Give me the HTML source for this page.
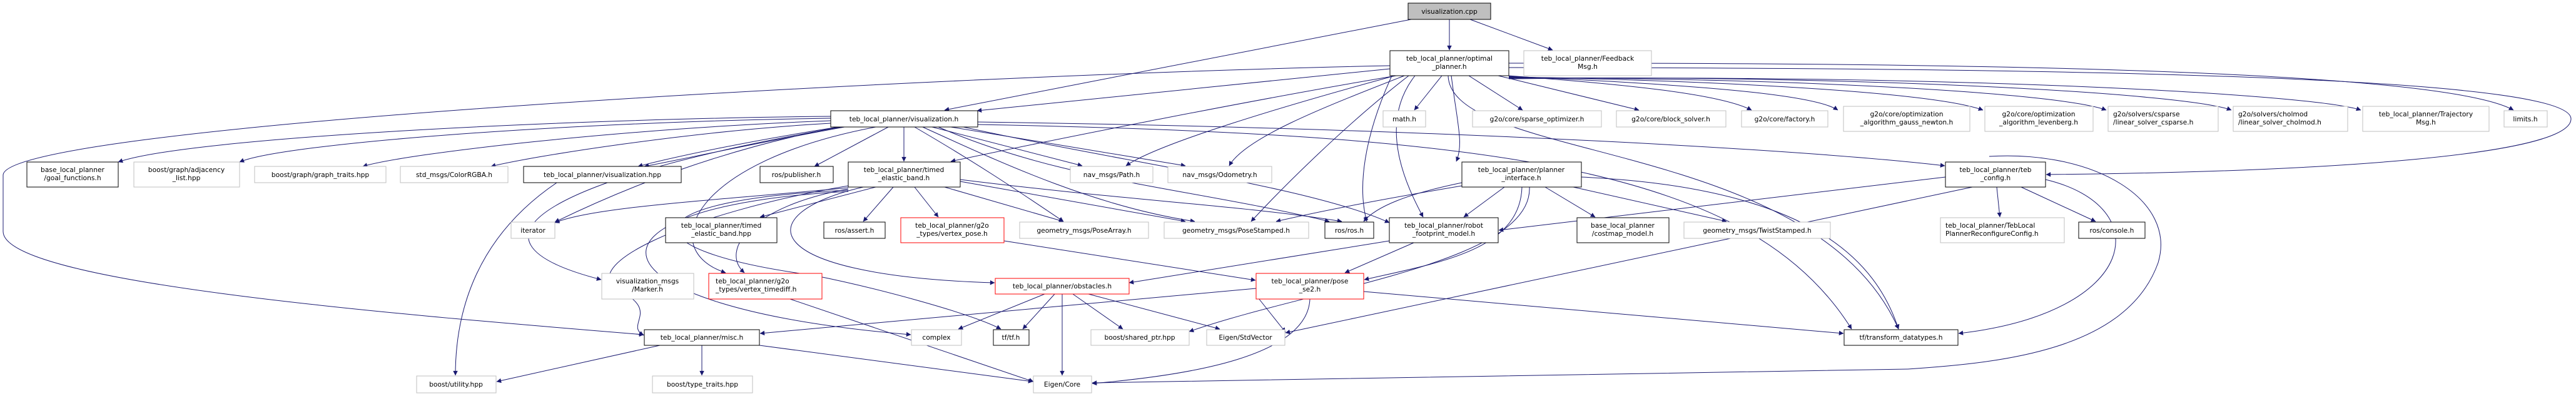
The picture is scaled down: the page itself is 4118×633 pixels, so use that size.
<!DOCTYPE html>
<html><head><meta charset="utf-8">
<style>
html,body{margin:0;padding:0;background:#fff;}
svg{display:block;}
text{font-family:"DejaVu Sans","Liberation Sans",sans-serif;font-size:10.7px;fill:#000;}
</style></head>
<body>
<svg id="g" width="4118" height="633" viewBox="0 0 4118 633" xmlns="http://www.w3.org/2000/svg">
<defs>
<marker id="ah" viewBox="0 0 10 10" refX="9.5" refY="5" markerWidth="10" markerHeight="7.5" markerUnits="userSpaceOnUse" orient="auto">
<path d="M0,0 L10,5 L0,10 z" fill="#191970"/>
</marker>
</defs>
<g id="edges" fill="none" stroke="#191970" stroke-width="1"></g>
<g id="nodes">
<rect x="2251" y="5" width="132" height="26" fill="#bfbfbf" stroke="#000"/><text x="2317" y="22" text-anchor="middle">visualization.cpp</text>
<rect x="2222" y="81" width="190" height="40" fill="#fff" stroke="#000"/><text x="2317" y="97" text-anchor="middle">teb_local_planner/optimal</text><text x="2317" y="110" text-anchor="middle">_planner.h</text>
<rect x="2436" y="81" width="204" height="40" fill="#fff" stroke="#bfbfbf"/><text x="2538" y="97" text-anchor="middle">teb_local_planner/Feedback</text><text x="2538" y="110" text-anchor="middle">Msg.h</text>
<rect x="1328" y="177" width="235" height="26" fill="#fff" stroke="#000"/><text x="1445" y="194" text-anchor="middle">teb_local_planner/visualization.h</text>
<rect x="2211" y="177" width="68" height="26" fill="#fff" stroke="#bfbfbf"/><text x="2245" y="194" text-anchor="middle">math.h</text>
<rect x="2354" y="177" width="206" height="26" fill="#fff" stroke="#bfbfbf"/><text x="2457" y="194" text-anchor="middle">g2o/core/sparse_optimizer.h</text>
<rect x="2584" y="177" width="175" height="26" fill="#fff" stroke="#bfbfbf"/><text x="2671" y="194" text-anchor="middle">g2o/core/block_solver.h</text>
<rect x="2784" y="177" width="138" height="26" fill="#fff" stroke="#bfbfbf"/><text x="2853" y="194" text-anchor="middle">g2o/core/factory.h</text>
<rect x="2947" y="170" width="202" height="40" fill="#fff" stroke="#bfbfbf"/><text x="3048" y="186" text-anchor="middle">g2o/core/optimization</text><text x="3048" y="199" text-anchor="middle">_algorithm_gauss_newton.h</text>
<rect x="3173" y="170" width="173" height="40" fill="#fff" stroke="#bfbfbf"/><text x="3259" y="186" text-anchor="middle">g2o/core/optimization</text><text x="3259" y="199" text-anchor="middle">_algorithm_levenberg.h</text>
<rect x="3370" y="170" width="176" height="40" fill="#fff" stroke="#bfbfbf"/><text x="3378" y="186">g2o/solvers/csparse</text><text x="3378" y="199">/linear_solver_csparse.h</text>
<rect x="3570" y="170" width="183" height="40" fill="#fff" stroke="#bfbfbf"/><text x="3578" y="186">g2o/solvers/cholmod</text><text x="3578" y="199">/linear_solver_cholmod.h</text>
<rect x="3777" y="170" width="202" height="40" fill="#fff" stroke="#bfbfbf"/><text x="3878" y="186" text-anchor="middle">teb_local_planner/Trajectory</text><text x="3878" y="199" text-anchor="middle">Msg.h</text>
<rect x="4003" y="177" width="69" height="26" fill="#fff" stroke="#bfbfbf"/><text x="4037" y="194" text-anchor="middle">limits.h</text>
<rect x="43" y="259" width="146" height="40" fill="#fff" stroke="#000"/><text x="116" y="275" text-anchor="middle">base_local_planner</text><text x="116" y="288" text-anchor="middle">/goal_functions.h</text>
<rect x="214" y="259" width="169" height="40" fill="#fff" stroke="#bfbfbf"/><text x="298" y="275" text-anchor="middle">boost/graph/adjacency</text><text x="298" y="288" text-anchor="middle">_list.hpp</text>
<rect x="407" y="266" width="210" height="26" fill="#fff" stroke="#bfbfbf"/><text x="512" y="283" text-anchor="middle">boost/graph/graph_traits.hpp</text>
<rect x="640" y="266" width="172" height="26" fill="#fff" stroke="#bfbfbf"/><text x="726" y="283" text-anchor="middle">std_msgs/ColorRGBA.h</text>
<rect x="837" y="266" width="252" height="26" fill="#fff" stroke="#000"/><text x="963" y="283" text-anchor="middle">teb_local_planner/visualization.hpp</text>
<rect x="1215" y="266" width="117" height="26" fill="#fff" stroke="#000"/><text x="1273" y="283" text-anchor="middle">ros/publisher.h</text>
<rect x="1356" y="259" width="179" height="40" fill="#fff" stroke="#000"/><text x="1445" y="275" text-anchor="middle">teb_local_planner/timed</text><text x="1445" y="288" text-anchor="middle">_elastic_band.h</text>
<rect x="1711" y="266" width="132" height="26" fill="#fff" stroke="#bfbfbf"/><text x="1777" y="283" text-anchor="middle">nav_msgs/Path.h</text>
<rect x="1867" y="266" width="166" height="26" fill="#fff" stroke="#bfbfbf"/><text x="1950" y="283" text-anchor="middle">nav_msgs/Odometry.h</text>
<rect x="2337" y="259" width="191" height="40" fill="#fff" stroke="#000"/><text x="2432" y="275" text-anchor="middle">teb_local_planner/planner</text><text x="2432" y="288" text-anchor="middle">_interface.h</text>
<rect x="3110" y="259" width="160" height="40" fill="#fff" stroke="#000"/><text x="3190" y="275" text-anchor="middle">teb_local_planner/teb</text><text x="3190" y="288" text-anchor="middle">_config.h</text>
<rect x="817" y="355" width="70" height="26" fill="#fff" stroke="#bfbfbf"/><text x="852" y="372" text-anchor="middle">iterator</text>
<rect x="1064" y="348" width="178" height="40" fill="#fff" stroke="#000"/><text x="1153" y="364" text-anchor="middle">teb_local_planner/timed</text><text x="1153" y="377" text-anchor="middle">_elastic_band.hpp</text>
<rect x="1317" y="355" width="98" height="26" fill="#fff" stroke="#000"/><text x="1366" y="372" text-anchor="middle">ros/assert.h</text>
<rect x="1440" y="348" width="165" height="40" fill="#fff" stroke="#ff0000"/><text x="1522" y="364" text-anchor="middle">teb_local_planner/g2o</text><text x="1522" y="377" text-anchor="middle">_types/vertex_pose.h</text>
<rect x="1630" y="355" width="206" height="26" fill="#fff" stroke="#bfbfbf"/><text x="1733" y="372" text-anchor="middle">geometry_msgs/PoseArray.h</text>
<rect x="1861" y="355" width="231" height="26" fill="#fff" stroke="#bfbfbf"/><text x="1976" y="372" text-anchor="middle">geometry_msgs/PoseStamped.h</text>
<rect x="2118" y="355" width="78" height="26" fill="#fff" stroke="#000"/><text x="2157" y="372" text-anchor="middle">ros/ros.h</text>
<rect x="2221" y="348" width="174" height="40" fill="#fff" stroke="#000"/><text x="2308" y="364" text-anchor="middle">teb_local_planner/robot</text><text x="2308" y="377" text-anchor="middle">_footprint_model.h</text>
<rect x="2521" y="348" width="147" height="40" fill="#fff" stroke="#000"/><text x="2594" y="364" text-anchor="middle">base_local_planner</text><text x="2594" y="377" text-anchor="middle">/costmap_model.h</text>
<rect x="2692" y="355" width="234" height="26" fill="#fff" stroke="#bfbfbf"/><text x="2809" y="372" text-anchor="middle">geometry_msgs/TwistStamped.h</text>
<rect x="3102" y="348" width="198" height="40" fill="#fff" stroke="#bfbfbf"/><text x="3110" y="364">teb_local_planner/TebLocal</text><text x="3110" y="377">PlannerReconfigureConfig.h</text>
<rect x="3323" y="355" width="106" height="26" fill="#fff" stroke="#000"/><text x="3376" y="372" text-anchor="middle">ros/console.h</text>
<rect x="962" y="437" width="147" height="41" fill="#fff" stroke="#bfbfbf"/><text x="1035" y="453" text-anchor="middle">visualization_msgs</text><text x="1035" y="466" text-anchor="middle">/Marker.h</text>
<rect x="1133" y="437" width="181" height="41" fill="#fff" stroke="#ff0000"/><text x="1144" y="453">teb_local_planner/g2o</text><text x="1144" y="466">_types/vertex_timediff.h</text>
<rect x="1591" y="445" width="214" height="25" fill="#fff" stroke="#ff0000"/><text x="1698" y="461" text-anchor="middle">teb_local_planner/obstacles.h</text>
<rect x="2008" y="437" width="172" height="41" fill="#fff" stroke="#ff0000"/><text x="2094" y="453" text-anchor="middle">teb_local_planner/pose</text><text x="2094" y="466" text-anchor="middle">_se2.h</text>
<rect x="1030" y="527" width="184" height="25" fill="#fff" stroke="#000"/><text x="1122" y="543" text-anchor="middle">teb_local_planner/misc.h</text>
<rect x="1457" y="527" width="80" height="25" fill="#fff" stroke="#bfbfbf"/><text x="1497" y="543" text-anchor="middle">complex</text>
<rect x="1588" y="527" width="57" height="25" fill="#fff" stroke="#000"/><text x="1616" y="543" text-anchor="middle">tf/tf.h</text>
<rect x="1744" y="527" width="157" height="25" fill="#fff" stroke="#bfbfbf"/><text x="1822" y="543" text-anchor="middle">boost/shared_ptr.hpp</text>
<rect x="1929" y="527" width="125" height="25" fill="#fff" stroke="#bfbfbf"/><text x="1991" y="543" text-anchor="middle">Eigen/StdVector</text>
<rect x="2948" y="527" width="182" height="25" fill="#fff" stroke="#000"/><text x="3039" y="543" text-anchor="middle">tf/transform_datatypes.h</text>
<rect x="666" y="601" width="127" height="27" fill="#fff" stroke="#bfbfbf"/><text x="729" y="618" text-anchor="middle">boost/utility.hpp</text>
<rect x="1043" y="601" width="160" height="27" fill="#fff" stroke="#bfbfbf"/><text x="1123" y="618" text-anchor="middle">boost/type_traits.hpp</text>
<rect x="1652" y="601" width="93" height="27" fill="#fff" stroke="#bfbfbf"/><text x="1698" y="618" text-anchor="middle">Eigen/Core</text>
</g>
</svg>
<script>
var E=[];
function c(x1,y1,x2,y2){var m=(y1+y2)/2;E.push("M"+x1+","+y1+" C"+x1+","+m+" "+x2+","+m+" "+x2+","+y2);}
function l(x1,y1,x2,y2){E.push("M"+x1+","+y1+" L"+x2+","+y2);}
function p(d){E.push(d);}
// visualization.cpp
l(2317,31,2317,80);l(2350,31,2482,80);l(2256,31,1510,176);
// optimal_planner
l(2222,110,1562,177);
l(2305,121,2261,176);l(2348,121,2434,176);l(2395,121,2620,176);
p("M2412,121 C2600,135 2750,150 2800,176");
p("M2412,122 C2700,135 2900,150 2938,176");
p("M2412,123 C2800,130 3100,150 3170,176");
p("M2412,124 C2900,125 3300,150 3367,176");
p("M2412,125 C3000,120 3500,150 3567,176");
p("M2412,126 C3100,118 3700,150 3774,176");
p("M2412,101 C3100,100 3900,110 4018,176");
p("M2412,108 C3500,108 4110,130 4110,190 C4110,250 3700,275 3271,279");
p("M2320,121 C2330,200 2340,230 2328,258");
p("M2232,121 C2000,160 1700,220 1520,258");
p("M2262,121 C2200,200 2250,300 2275,347");
p("M2230,121 C2050,170 1850,230 1800,265");
p("M2245,121 C2120,170 1990,220 1965,265");
p("M2252,121 C2150,200 2050,300 2000,354");
p("M2225,121 C2180,220 2170,300 2185,354");
p("M2315,121 C2320,260 2900,220 3035,526");
p("M2222,105 C1500,120 5,200 5,280 L5,370 C5,450 600,500 1029,535");
// visualization.h
p("M1328,186 C900,190 300,220 189,259");
p("M1328,189 C900,195 450,230 383,259");
p("M1328,193 C1000,205 650,245 580,266");
p("M1328,197 C1100,210 850,250 785,266");
p("M1340,203 C1200,225 1080,250 1020,266");
p("M1350,203 C1200,230 1090,255 1030,266");
l(1420,203,1302,266);l(1445,203,1445,258);
l(1490,203,1730,265);l(1520,203,1895,265);
p("M1462,203 C1560,260 1620,300 1700,354");
p("M1475,203 C1600,260 1750,330 1910,354");
p("M1563,195 C2300,205 2900,240 3109,265");
p("M1563,199 C2400,215 2800,270 2960,526");
p("M1340,203 C1150,240 1000,300 887,355");
p("M1345,203 C900,280 700,380 961,447");
p("M1500,203 C1700,290 1900,300 2125,354");
p("M1540,203 C1800,260 2100,300 2221,356");
p("M1400,203 C1100,260 1050,400 1160,436");
// timed_elastic_band.h
l(1400,299,1215,347);l(1428,299,1380,354);l(1462,299,1500,347);
l(1510,299,1700,354);l(1535,290,1895,354);
p("M1535,287 C1800,320 2000,330 2145,354");
p("M1356,300 C1150,320 950,330 887,356");
p("M1356,302 C1200,330 1150,400 1190,436");
p("M1380,299 C1200,340 1200,440 1590,452");
p("M1356,304 C1000,320 1000,400 1300,440 C1400,460 1550,500 1600,526");
p("M1356,306 C900,330 920,490 1456,535");
p("M1356,297 C1100,340 900,430 1000,470 C1050,500 1000,520 1029,536");
// others
l(1605,385,2007,448);
l(1263,478,1652,610);
l(2405,299,2340,347);l(2470,299,2550,347);l(2515,299,2760,354);
p("M2337,292 C2250,310 2200,330 2180,354");
p("M2337,297 C2200,320 2100,340 2040,354");
p("M2433,299 C2430,400 2300,420 2181,447");
p("M2445,299 C2450,420 2100,460 1901,530");
p("M2528,283 C2900,300 3000,420 3035,526");
l(2221,385,1805,452);l(2260,388,2150,436);
l(2008,461,1215,533);l(2008,472,2055,531);
p("M2094,478 C2090,570 1900,600 1746,613");
l(2180,466,2947,533);
l(1670,470,1532,526);l(1686,470,1635,526);l(1698,470,1698,600);
l(1715,470,1795,526);l(1740,470,1950,526);
l(1055,552,794,610);l(1122,552,1122,600);l(1214,552,1651,610);
p("M890,292 C760,380 728,500 728,600");
l(3192,299,3197,347);l(3231,299,3350,354);
p("M3270,287 C3450,330 3420,500 3131,533");
l(3153,299,2055,532);
l(3110,283,2396,368);
p("M3180,250 C3350,240 3480,320 3450,420 C3400,560 3200,580 3050,590 C2500,600 2000,610 1746,612");
var g=document.getElementById("edges"),ns="http://www.w3.org/2000/svg";
E.forEach(function(d){var e=document.createElementNS(ns,"path");e.setAttribute("d",d);e.setAttribute("marker-end","url(#ah)");g.appendChild(e);});
</script>
</body></html>
